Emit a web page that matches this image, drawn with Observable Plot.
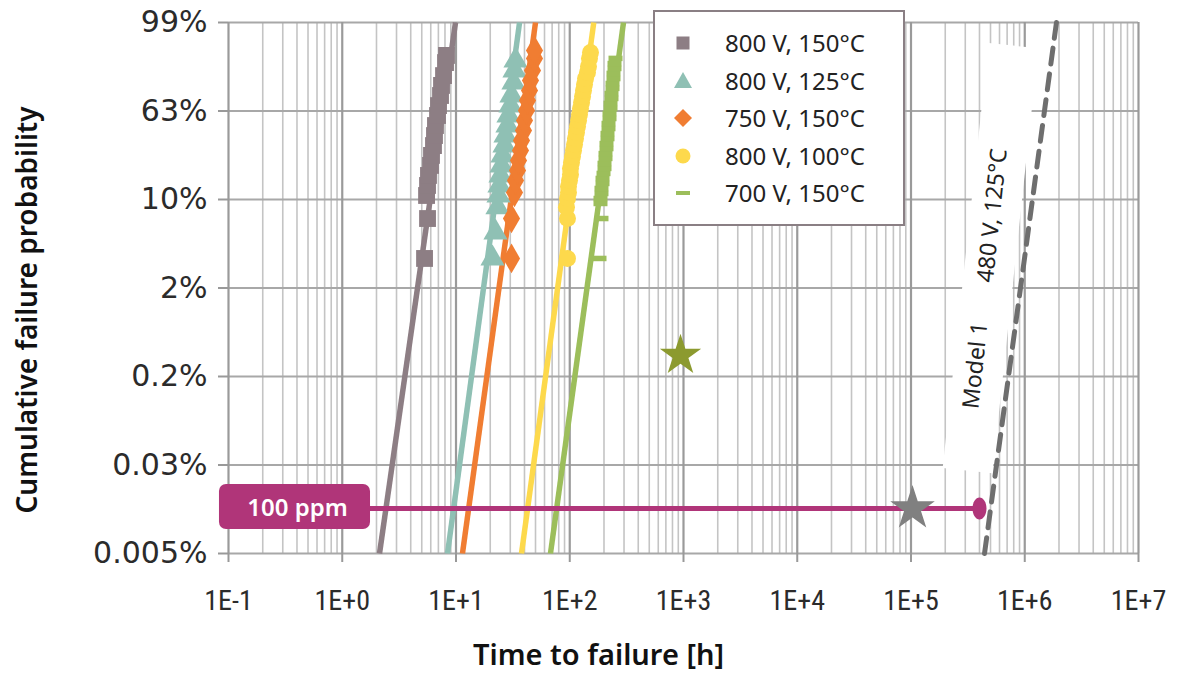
<!DOCTYPE html>
<html><head><meta charset="utf-8">
<script src="https://cdn.jsdelivr.net/npm/d3@7"></script>
<script src="https://cdn.jsdelivr.net/npm/@observablehq/plot@0.6"></script>
<style>
html,body{margin:0;padding:0;background:#fff;}
#wrap{position:relative;width:1177px;height:673px;font-family:"Noto Sans",sans-serif;}
#legend{position:absolute;left:653px;top:10px;width:248px;height:212px;border:2px solid #8a7f84;background:#fff;}
.row{position:absolute;left:0;width:240px;height:38px;}
.row svg{position:absolute;left:16px;top:7px;}
.row span{position:absolute;left:70px;top:0;font-size:24px;line-height:38px;color:#222;white-space:nowrap;}
</style></head><body><div id="wrap"></div>
<script>
// ---------- axes ----------
const xMajor = [0.1, 1, 10, 100, 1e3, 1e4, 1e5, 1e6, 1e7];
const yTicks = [0.005, 0.03, 0.2, 2, 10, 63, 99]; // %

// ---------- series: [time h, cumulative failure %] ----------
const seriesNames = ["800 V, 150°C", "800 V, 125°C", "750 V, 150°C", "800 V, 100°C", "700 V, 150°C"];
const seriesColors = ["#8d7e84", "#8fc0b4", "#f07d32", "#fdd94c", "#9cbe5b"];

const pts800_150 = [[5.29,4.67],[5.62,8.28],[5.51,12.4],[5.62,18.4],[5.73,24.4],[5.97,30.4],[6.09,36.4],[6.34,42.3],[6.47,48.3],[6.60,54.3],[6.88,60.3],[7.02,65.2],[7.31,69.3],[7.46,73.4],[7.77,77.4],[8.09,82.7],[8.25,85.6]];
const pts800_125 = [[20.94,4.67],[22.25,7.02],[23.17,9.30],[23.64,12.4],[24.12,18.4],[24.62,24.4],[25.12,30.4],[25.63,36.4],[26.69,42.3],[27.24,48.3],[28.36,54.3],[28.94,60.3],[30.14,65.2],[30.75,69.3],[32.02,74.6],[32.68,79.5],[33.35,83.5]];
const pts750_150 = [[30.75,4.67],[30.75,8.28],[32.68,14.2],[33.35,21.4],[34.73,27.4],[35.44,33.4],[36.90,39.3],[37.65,45.3],[39.21,51.3],[40.01,57.3],[41.67,63.2],[42.52,67.3],[44.28,71.3],[45.18,75.4],[47.05,79.5],[48.99,84.4],[48.99,87.6]];
const pts800_100 = [[95.5,4.67],[95.5,8.28],[93.6,9.30],[95.5,10.6],[97.5,14.2],[97.5,17.8],[99.5,21.4],[101.5,25.0],[101.5,28.6],[103.6,32.2],[105.7,35.8],[107.9,39.3],[110.1,42.9],[112.3,46.5],[114.6,50.1],[117.0,53.7],[119.4,57.3],[121.8,60.9],[124.3,64.0],[126.9,66.5],[129.5,68.9],[132.1,71.3],[134.8,73.8],[137.6,76.2],[143.2,78.7],[146.1,81.1],[149.1,84.4],[152.2,86.8]];
const pts700_150 = [[182.6,4.67],[190.1,8.28],[186.3,9.64],[186.3,10.6],[190.1,13.6],[190.1,16.6],[194.1,19.6],[194.1,22.6],[198.1,25.6],[202.1,28.6],[202.1,31.6],[206.2,34.6],[206.2,37.5],[210.4,40.5],[210.4,43.5],[214.7,46.5],[214.7,49.5],[219.1,52.5],[219.1,55.5],[223.6,58.5],[223.6,61.5],[228.2,64.0],[228.2,66.1],[232.8,68.1],[232.8,70.1],[237.6,72.2],[237.6,74.2],[242.4,76.2],[242.4,78.3],[247.4,80.3],[247.4,82.3],[252.5,84.4]];

// Weibull fit lines: [time, %] at 0.005 % and 99 %
const fit800_150 = [[2.126,0.005],[9.90,99]];
const fit800_125 = [[8.42,0.005],[36.2,99]];
const fit750_150 = [[11.40,0.005],[50.0,99]];
const fit800_100 = [[37.65,0.005],[162.6,99]];
const fit700_150 = [[67.7,0.005],[296.9,99]];
const model1 = [[4.43e5,0.005],[1.90e6,99]];

// 100 ppm annotation
const ppmLine = [[1.772,0.0177],[4.0e5,0.0177]];
const ppmBoxX = [0.0833, 1.772];
const ppmBoxP = [0.0118, 0.0245];
const ppmLabel = [[0.404, 0.0177, "100 ppm"]];
const ppmEnd = [[4.0e5, 0.0177]];
const starOlive = [[941, 0.627]];
const starGray = [[1.031e5, 0.0177]];

// Model 1 label
const modelLabelText = ["480 V, 125°C", "Model 1"];
const modelLabelT = [5.21e5, 3.69e5];
const modelLabelP = [8.55, 0.424];
const labelPatch = [[3.14e5, 0.0284], [7.96e5, 89.6]];

// ---------- layout ----------
const W = 1177, H = 673, mL = 228, mR = 39, mT = 22, mB = 120;
const yRange = yTicks.map((_, i) => (H - mB) - i * (H - mB - mT) / (yTicks.length - 1));
const xMinor = xMajor.slice(0, -1).flatMap(d => [2,3,4,5,6,7,8,9].map(k => k * d));

const dashSymbol = {draw(ctx) { ctx.rect(-7, -2.75, 14, 5.5); }};
const ellipseSymbol = {draw(ctx) {
  const rx = 7, ry = 11, k = 0.5523;
  ctx.moveTo(rx, 0);
  ctx.bezierCurveTo(rx, ry*k, rx*k, ry, 0, ry);
  ctx.bezierCurveTo(-rx*k, ry, -rx, ry*k, -rx, 0);
  ctx.bezierCurveTo(-rx, -ry*k, -rx*k, -ry, 0, -ry);
  ctx.bezierCurveTo(rx*k, -ry, rx, -ry*k, rx, 0);
  ctx.closePath();
}};

const X = d => d[0], Y = d => d[1];
const fitLine = (data, color) => Plot.line(data, {x: X, y: Y, stroke: color, strokeWidth: 5.5, strokeLinecap: "butt"});

const expFmt = d => { const e = Math.round(Math.log10(d)); return "1E" + (e < 0 ? "-" + (-e) : "+" + e); };

const chart = Plot.plot({
  width: W, height: H,
  marginLeft: mL, marginRight: mR, marginTop: mT, marginBottom: mB,
  style: {background: "white", fontFamily: "Noto Sans, sans-serif", overflow: "visible"},
  x: {type: "log", domain: [0.1, 1e7]},
  y: {type: "linear", domain: yTicks, range: yRange},
  marks: [
    Plot.ruleX(xMinor, {stroke: "#c4c4c4", strokeWidth: 1.6}),
    Plot.ruleY(yTicks, {stroke: "#a8a8a8", strokeWidth: 2}),
    Plot.ruleX(xMajor, {stroke: "#9a9a9a", strokeWidth: 2.2}),
    Plot.line(labelPatch, {x: X, y: Y, stroke: "white", strokeWidth: 50, strokeLinecap: "butt"}),
    Plot.line(model1, {x: X, y: Y, stroke: "#6e6e6e", strokeWidth: 5, strokeDasharray: "16,10"}),
    fitLine(fit800_150, seriesColors[0]),
    fitLine(fit800_125, seriesColors[1]),
    fitLine(fit750_150, seriesColors[2]),
    fitLine(fit800_100, seriesColors[3]),
    fitLine(fit700_150, seriesColors[4]),
    Plot.dot(pts800_150, {x: X, y: Y, symbol: "square", r: 9.5, fill: seriesColors[0]}),
    Plot.dot(pts800_125, {x: X, y: Y, symbol: "triangle", r: 9, fill: seriesColors[1]}),
    Plot.dot(pts750_150, {x: X, y: Y, symbol: "diamond", r: 9, fill: seriesColors[2]}),
    Plot.dot(pts800_100, {x: X, y: Y, symbol: "circle", r: 8.5, fill: seriesColors[3]}),
    Plot.dot(pts700_150, {x: X, y: Y, symbol: dashSymbol, fill: seriesColors[4]}),
    Plot.line(ppmLine, {x: X, y: Y, stroke: "#b03579", strokeWidth: 5}),
    Plot.rect([0], {x1: () => ppmBoxX[0], x2: () => ppmBoxX[1], y1: () => ppmBoxP[0], y2: () => ppmBoxP[1], rx: 7, fill: "#b03579"}),
    Plot.text(ppmLabel, {x: d => d[0], y: d => d[1], text: d => d[2], fill: "white", fontSize: 24, fontWeight: 600}),
    Plot.dot(starOlive, {x: X, y: Y, symbol: "star", r: 13, fill: "#8c9a2f"}),
    Plot.dot(starGray, {x: X, y: Y, symbol: "star", r: 14, fill: "#808080"}),
    Plot.dot(ppmEnd, {x: X, y: Y, symbol: ellipseSymbol, fill: "#b03579"}),
    Plot.text(modelLabelText, {x: (d, i) => modelLabelT[i], y: (d, i) => modelLabelP[i], text: d => d, rotate: -84, fontSize: 23, fill: "#222"}),
    Plot.axisY(yTicks, {tickFormat: d => d + "%", fontSize: 30, fontFamily: "DejaVu Sans, sans-serif", tickSize: 10, tickPadding: 11, stroke: "#999", strokeWidth: 2, fill: "#2b2b2b", label: null}),
    Plot.axisX(xMajor, {tickFormat: expFmt, fontSize: 28, fontFamily: "Liberation Sans Narrow, Roboto Condensed, sans-serif", tickSize: 9, tickPadding: 28, stroke: "#999", strokeWidth: 2, fill: "#2b2b2b", label: null}),
    Plot.text(["Time to failure [h]"], {frameAnchor: "bottom", dx: -85, dy: 102, lineAnchor: "middle", textAnchor: "middle", fontSize: 29, fontWeight: 600, fill: "#111"}),
    Plot.text(["Cumulative failure probability"], {frameAnchor: "left", dx: -200, dy: 22, rotate: -90, lineAnchor: "middle", textAnchor: "middle", fontSize: 28, fontWeight: 600, fill: "#111"})
  ]
});

const wrap = document.getElementById("wrap");
wrap.appendChild(chart);

// ---------- legend ----------
const legendCenters = [31, 69, 106, 144, 181];
const legendShapes = [
  '<rect x="5.5" y="5.5" width="13" height="13" fill="C"/>',
  '<polygon points="12,3 21,19 3,19" fill="C"/>',
  '<polygon points="12,3 21,12 12,21 3,12" fill="C"/>',
  '<circle cx="12" cy="12" r="7.5" fill="C"/>',
  '<rect x="5" y="10" width="14" height="4" fill="C"/>'
];
const legend = document.createElement("div");
legend.id = "legend";
seriesNames.forEach((name, i) => {
  const row = document.createElement("div");
  row.className = "row";
  row.style.top = (legendCenters[i] - 19) + "px";
  row.innerHTML = '<svg width="24" height="24">' + legendShapes[i].replace("C", seriesColors[i]) + '</svg><span>' + name + '</span>';
  legend.appendChild(row);
});
wrap.appendChild(legend);
</script></body></html>
